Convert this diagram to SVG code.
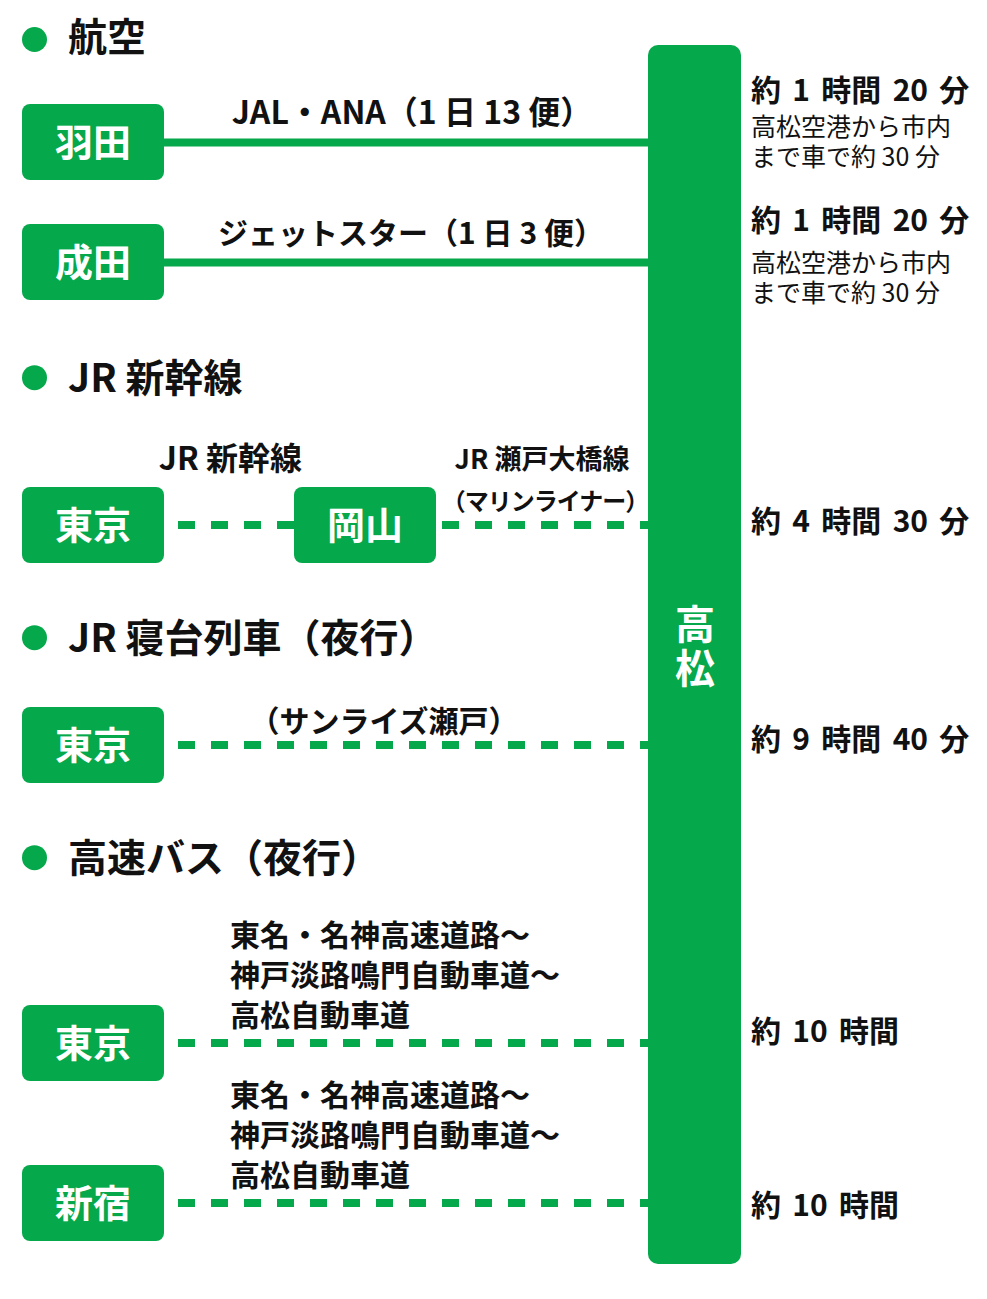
<svg xmlns="http://www.w3.org/2000/svg" width="987" height="1299" viewBox="0 0 987 1299">
<style>
.bg{fill:#ffffff}
.box{fill:#05a84b}
.bul{fill:#05a84b}
.solid{stroke:#05a84b;stroke-width:8;fill:none}
.dash{stroke:#05a84b;stroke-width:8;fill:none;stroke-dasharray:17 16}
text{font-family:"Noto Sans CJK JP","Noto Sans",sans-serif}
.head{font-size:39px;font-weight:700;fill:#111}
.lbl{font-size:38px;font-weight:700;fill:#fff;text-anchor:middle}
.rt{font-size:30px;font-weight:700;fill:#111}
.rtm{font-size:30px;font-weight:700;fill:#111;text-anchor:middle}
.sm{font-size:27px;font-weight:700;fill:#111;text-anchor:middle}
.dur{font-size:30px;font-weight:700;fill:#111;word-spacing:4.5px}
.note{font-size:25px;font-weight:400;fill:#111}
.city{font-size:40px;font-weight:700;fill:#fff;text-anchor:middle;writing-mode:vertical-rl;letter-spacing:4px}
</style>
<rect class="bg" x="0" y="0" width="987" height="1299"/>

<g id="headings">
<circle class="bul" cx="34.5" cy="39.5" r="12.5"/>
<text class="head" x="68" y="51">航空</text>
<circle class="bul" cx="34.5" cy="377.7" r="12.5"/>
<text class="head" x="68" y="392">JR 新幹線</text>
<circle class="bul" cx="34.5" cy="637.7" r="12.5"/>
<text class="head" x="68" y="652">JR 寝台列車（夜行）</text>
<circle class="bul" cx="34.5" cy="857.7" r="12.5"/>
<text class="head" x="68" y="872">高速バス（夜行）</text>
</g>

<g id="connectors">
<line class="solid" x1="164" y1="142.5" x2="650" y2="142.5"/>
<line class="solid" x1="164" y1="262.5" x2="650" y2="262.5"/>
<line class="dash" x1="178" y1="525" x2="294" y2="525"/>
<line class="dash" x1="442" y1="525" x2="650" y2="525"/>
<line class="dash" x1="178" y1="745" x2="650" y2="745"/>
<line class="dash" x1="178" y1="1043" x2="650" y2="1043"/>
<line class="dash" x1="178" y1="1203" x2="650" y2="1203"/>
</g>

<g id="route-labels">
<text class="rtm" x="412" y="124" style="font-size:32px">JAL・ANA（1 日 13 便）</text>
<text class="rtm" x="411" y="244">ジェットスター（1 日 3 便）</text>
<text class="rtm" x="230.5" y="470" style="font-size:32px">JR 新幹線</text>
<text class="sm" x="542" y="469">JR 瀬戸大橋線</text>
<text class="sm" x="545" y="510" style="font-size:24px;letter-spacing:-1px">（マリンライナー）</text>
<text class="rtm" x="384" y="732">（サンライズ瀬戸）</text>
<text class="rt" x="230"><tspan x="230" y="946">東名・名神高速道路～</tspan><tspan x="230" y="986">神戸淡路鳴門自動車道～</tspan><tspan x="230" y="1026">高松自動車道</tspan></text>
<text class="rt" x="230"><tspan x="230" y="1106">東名・名神高速道路～</tspan><tspan x="230" y="1146">神戸淡路鳴門自動車道～</tspan><tspan x="230" y="1186">高松自動車道</tspan></text>
</g>

<g id="node-haneda">
<rect class="box" x="22" y="104" width="142" height="76" rx="8"/>
<text class="lbl" x="93" y="156">羽田</text>
</g>
<g id="node-narita">
<rect class="box" x="22" y="224" width="142" height="76" rx="8"/>
<text class="lbl" x="93" y="276">成田</text>
</g>
<g id="node-tokyo-shinkansen">
<rect class="box" x="22" y="487" width="142" height="76" rx="8"/>
<text class="lbl" x="93" y="539">東京</text>
</g>
<g id="node-okayama">
<rect class="box" x="294" y="487" width="142" height="76" rx="8"/>
<text class="lbl" x="365" y="539">岡山</text>
</g>
<g id="node-tokyo-sleeper">
<rect class="box" x="22" y="707" width="142" height="76" rx="8"/>
<text class="lbl" x="93" y="759">東京</text>
</g>
<g id="node-tokyo-bus">
<rect class="box" x="22" y="1005" width="142" height="76" rx="8"/>
<text class="lbl" x="93" y="1057">東京</text>
</g>
<g id="node-shinjuku">
<rect class="box" x="22" y="1165" width="142" height="76" rx="8"/>
<text class="lbl" x="93" y="1217">新宿</text>
</g>

<g id="node-takamatsu">
<rect class="box" x="648" y="45" width="93" height="1219" rx="10"/>
<text class="city" x="695" y="648">高松</text>
</g>

<g id="durations">
<text class="dur" x="751" y="101">約 1 時間 20 分</text>
<text class="note" x="751"><tspan x="751" y="136">高松空港から市内</tspan><tspan x="751" y="166">まで車で約 30 分</tspan></text>
<text class="dur" x="751" y="231">約 1 時間 20 分</text>
<text class="note" x="751"><tspan x="751" y="272">高松空港から市内</tspan><tspan x="751" y="302">まで車で約 30 分</tspan></text>
<text class="dur" x="751" y="532">約 4 時間 30 分</text>
<text class="dur" x="751" y="750">約 9 時間 40 分</text>
<text class="dur" x="751" y="1042">約 10 時間</text>
<text class="dur" x="751" y="1216">約 10 時間</text>
</g>
</svg>
